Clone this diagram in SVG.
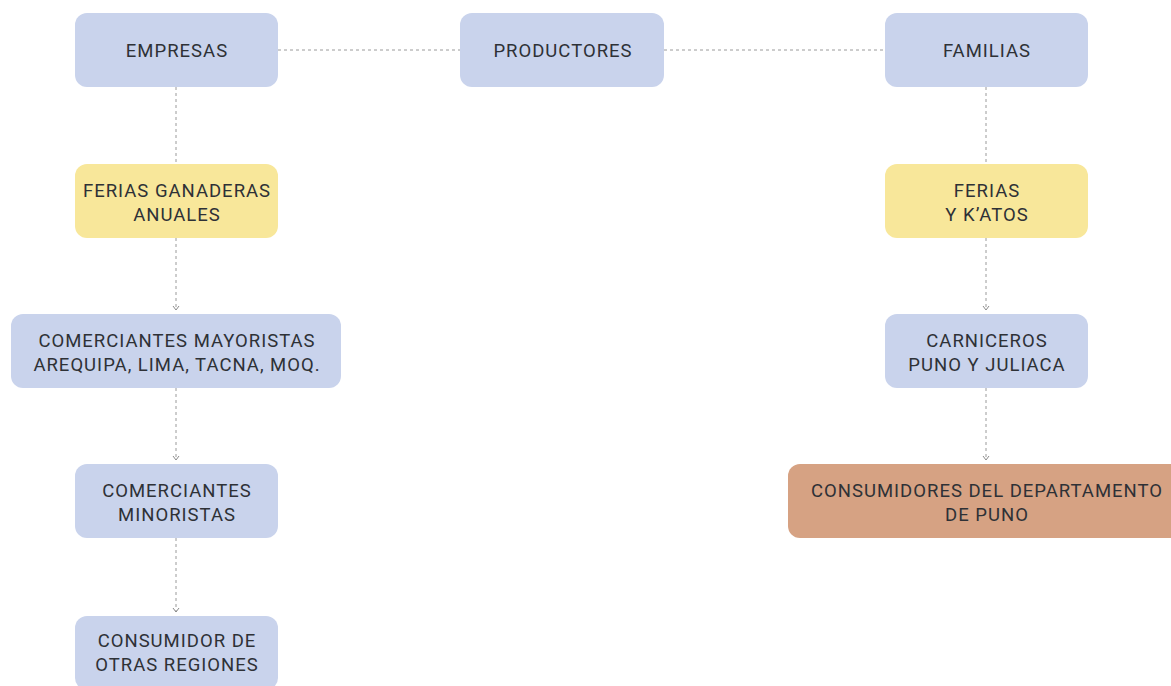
<svg xmlns="http://www.w3.org/2000/svg" width="1171" height="686" viewBox="0 0 1171 686">
<style>
.b{fill:#c9d3ec}
.y{fill:#f8e79a}
.o{fill:#d6a283}
text{font-family:Roboto,"Liberation Sans",sans-serif;font-size:18.5px;letter-spacing:1px;fill:#2e3136;text-anchor:middle}
.c{stroke:#9a9a9a;stroke-width:1;stroke-dasharray:3 3;fill:none}
</style>
<defs>
<marker id="ar" markerWidth="8" markerHeight="8" refX="6" refY="4" orient="auto" markerUnits="userSpaceOnUse" viewBox="0 0 8 8">
<path d="M2 1 L6 4 L2 7" fill="none" stroke="#8a8a8a" stroke-width="1"/>
</marker>
</defs>
<g id="connectors">
<line class="c" x1="278" y1="50" x2="460" y2="50"/>
<line class="c" x1="664" y1="50" x2="885" y2="50"/>
<line class="c" x1="176" y1="87" x2="176" y2="164"/>
<line class="c" x1="176" y1="238" x2="176" y2="310" marker-end="url(#ar)"/>
<line class="c" x1="176" y1="388" x2="176" y2="460" marker-end="url(#ar)"/>
<line class="c" x1="176" y1="538" x2="176" y2="612" marker-end="url(#ar)"/>
<line class="c" x1="986" y1="87" x2="986" y2="164"/>
<line class="c" x1="986" y1="238" x2="986" y2="310" marker-end="url(#ar)"/>
<line class="c" x1="986" y1="388" x2="986" y2="460" marker-end="url(#ar)"/>
</g>
<g id="empresas"><rect class="b" x="75" y="13" width="203" height="74" rx="12"/><text x="177" y="57">EMPRESAS</text></g>
<g id="productores"><rect class="b" x="460" y="13" width="204" height="74" rx="12"/><text x="563" y="57">PRODUCTORES</text></g>
<g id="familias"><rect class="b" x="885" y="13" width="203" height="74" rx="12"/><text x="987" y="57">FAMILIAS</text></g>
<g id="ferias-ganaderas"><rect class="y" x="75" y="164" width="203" height="74" rx="12"/><text x="177" y="197">FERIAS GANADERAS</text><text x="177" y="221">ANUALES</text></g>
<g id="ferias-katos"><rect class="y" x="885" y="164" width="203" height="74" rx="12"/><text x="987" y="197">FERIAS</text><text x="987" y="221">Y K’ATOS</text></g>
<g id="mayoristas"><rect class="b" x="11" y="314" width="330" height="74" rx="12"/><text x="177" y="347">COMERCIANTES MAYORISTAS</text><text x="177" y="371">AREQUIPA, LIMA, TACNA, MOQ.</text></g>
<g id="carniceros"><rect class="b" x="885" y="314" width="203" height="74" rx="12"/><text x="987" y="347">CARNICEROS</text><text x="987" y="371">PUNO Y JULIACA</text></g>
<g id="minoristas"><rect class="b" x="75" y="464" width="203" height="74" rx="12"/><text x="177" y="497">COMERCIANTES</text><text x="177" y="521">MINORISTAS</text></g>
<g id="consumidores-puno"><rect class="o" x="788" y="464" width="398" height="74" rx="12"/><text x="987" y="497">CONSUMIDORES DEL DEPARTAMENTO</text><text x="987" y="521">DE PUNO</text></g>
<g id="consumidor-otras"><rect class="b" x="75" y="616" width="203" height="74" rx="12"/><text x="177" y="647">CONSUMIDOR DE</text><text x="177" y="671">OTRAS REGIONES</text></g>
</svg>
